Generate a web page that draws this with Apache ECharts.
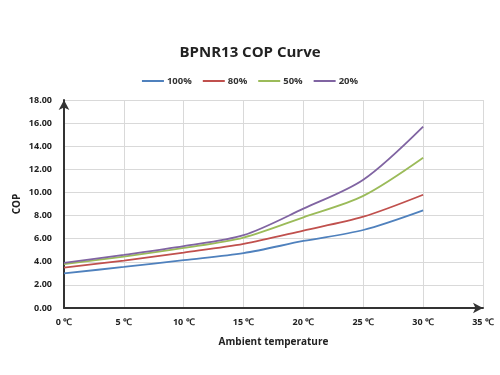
<!DOCTYPE html>
<html>
<head>
<meta charset="utf-8">
<script src="https://cdn.jsdelivr.net/npm/echarts@6/dist/echarts.min.js"></script>
<style>html,body{margin:0;padding:0;background:#fff;}#c{width:500px;height:375px;}</style>
</head>
<body>
<div id="c"></div>
<script>
const temps = [0, 5, 10, 15, 20, 25, 30];
const seriesNames = ['100%', '80%', '50%', '20%'];
const cop100 = [3.0, 3.55, 4.15, 4.75, 5.8, 6.75, 8.45];
const cop80 = [3.5, 4.1, 4.8, 5.55, 6.7, 7.9, 9.8];
const cop50 = [3.8, 4.45, 5.2, 6.1, 7.85, 9.7, 13.0];
const cop20 = [3.9, 4.6, 5.35, 6.3, 8.6, 11.1, 15.7];
const colors = ['#4f81bd', '#c0504d', '#9bbb59', '#8064a2'];
const allData = [cop100, cop80, cop50, cop20];

const font = '"Open Sans", "Liberation Sans", sans-serif';
const chart = echarts.init(document.getElementById('c'), null, {renderer: 'canvas'});
chart.setOption({
  animation: false,
  backgroundColor: '#fff',
  color: colors,
  textStyle: {fontFamily: font},
  title: {
    text: 'BPNR13 COP Curve', left: 'center', top: 40,
    textStyle: {fontFamily: font, fontSize: 15, fontWeight: 'bold', color: '#222'}
  },
  legend: {
    top: 71, left: 'center', itemWidth: 22, itemHeight: 2, itemGap: 11,
    icon: 'rect',
    textStyle: {fontFamily: font, fontSize: 9.5, fontWeight: 'bold', color: '#333', padding: [0, 0, 0, -2]},
    data: seriesNames
  },
  grid: {left: 64, right: 17, top: 100, bottom: 67},
  xAxis: {
    type: 'value', min: 0, max: 35, interval: 5,
    name: 'Ambient temperature', nameLocation: 'middle', nameGap: 29,
    nameTextStyle: {fontFamily: font, fontSize: 10, fontWeight: 'bold', color: '#222'},
    axisLine: {show: true, symbol: ['none', 'arrow'], symbolSize: [8, 10], lineStyle: {color: '#333', width: 2}},
    axisTick: {show: false},
    axisLabel: {formatter: v => v + ' ℃', fontFamily: font, fontSize: 9, fontWeight: 'bold', color: '#222', margin: 10},
    splitLine: {show: true, lineStyle: {color: '#d9d9d9', width: 1}}
  },
  yAxis: {
    type: 'value', min: 0, max: 18, interval: 2,
    name: 'COP', nameLocation: 'middle', nameGap: 42, nameRotate: 90, nameMoveOverlap: false,
    nameTextStyle: {fontFamily: font, fontSize: 10, fontWeight: 'bold', color: '#222'},
    axisLine: {show: true, symbol: ['none', 'arrow'], symbolSize: [8, 10], lineStyle: {color: '#333', width: 2}},
    axisTick: {show: false},
    axisLabel: {formatter: v => v.toFixed(2), fontFamily: font, fontSize: 9, fontWeight: 'bold', color: '#222', margin: 12},
    splitLine: {show: true, lineStyle: {color: '#d9d9d9', width: 1}}
  },
  series: seriesNames.map((n, i) => ({
    name: n, type: 'line', smooth: 0.3, showSymbol: false,
    lineStyle: {width: 1.8, color: colors[i]},
    data: temps.map((t, j) => [t, allData[i][j]])
  }))
});
</script>
</body>
</html>
